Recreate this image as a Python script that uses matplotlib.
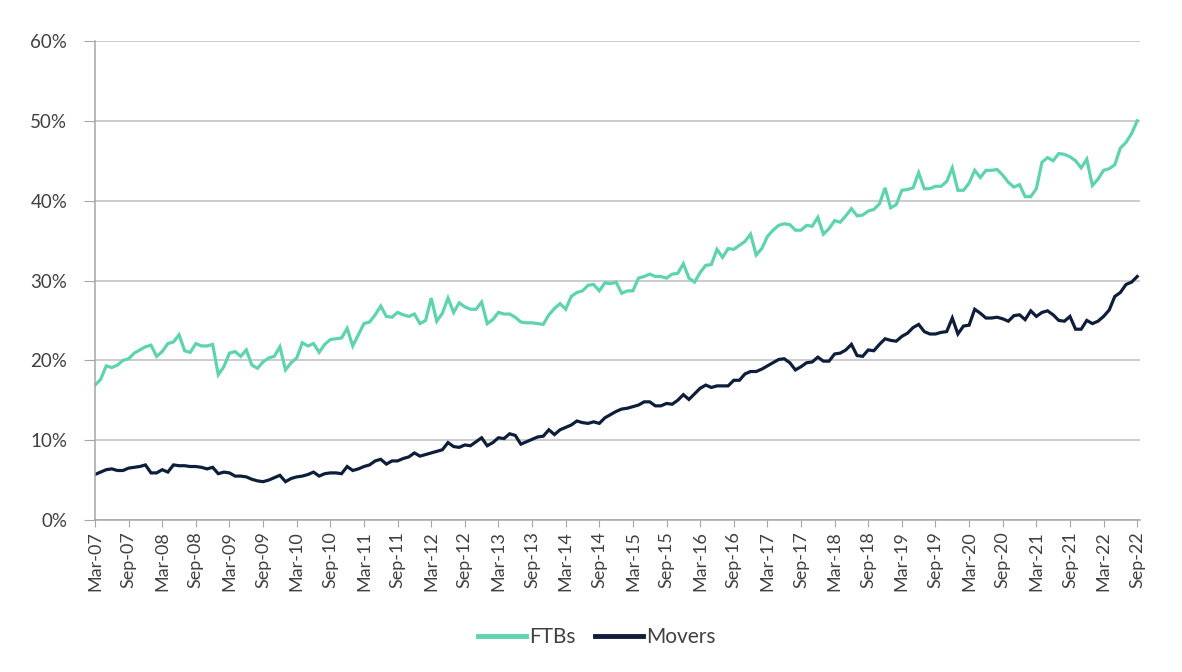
import matplotlib
matplotlib.use("Agg")
import matplotlib.pyplot as plt
import numpy as np

# monthly share, Mar-07 .. Sep-22
ftbs = [
    16.9, 17.6, 19.3, 19.1, 19.4, 20.0, 20.2, 20.9, 21.3, 21.7, 21.9, 20.5,
    21.1, 22.1, 22.3, 23.2, 21.2, 21.0, 22.1, 21.8, 21.8, 22.0, 18.2, 19.2,
    20.9, 21.1, 20.5, 21.3, 19.4, 19.0, 19.8, 20.3, 20.5, 21.7, 18.8, 19.7,
    20.3, 22.2, 21.8, 22.1, 21.0, 22.0, 22.6, 22.7, 22.8, 24.0, 21.8, 23.2,
    24.6, 24.8, 25.7, 26.8, 25.5, 25.4, 26.0, 25.7, 25.5, 25.8, 24.6, 25.0,
    27.8, 24.9, 25.9, 27.8, 26.0, 27.2, 26.7, 26.4, 26.4, 27.3, 24.6, 25.1,
    26.0, 25.8, 25.8, 25.4, 24.8, 24.7, 24.7, 24.6, 24.5, 25.7, 26.5, 27.1,
    26.4, 28.0, 28.5, 28.7, 29.4, 29.5, 28.7, 29.7, 29.6, 29.8, 28.4, 28.7,
    28.7, 30.3, 30.5, 30.8, 30.5, 30.5, 30.3, 30.8, 30.9, 32.1, 30.3, 29.8,
    31.0, 31.9, 32.0, 33.9, 32.9, 34.0, 33.9, 34.4, 34.9, 35.8, 33.2, 34.0,
    35.5, 36.3, 36.9, 37.1, 37.0, 36.3, 36.3, 36.9, 36.8, 37.9, 35.8, 36.5,
    37.5, 37.3, 38.1, 39.0, 38.1, 38.2, 38.7, 38.9, 39.6, 41.6, 39.1, 39.5,
    41.3, 41.4, 41.6, 43.5, 41.5, 41.5, 41.8, 41.8, 42.4, 44.1, 41.3, 41.3,
    42.2, 43.8, 42.9, 43.8, 43.8, 43.9, 43.2, 42.3, 41.7, 42.0, 40.5, 40.5,
    41.5, 44.8, 45.4, 45.0, 45.9, 45.8, 45.5, 45.0, 44.1, 45.2, 41.9, 42.7,
    43.8, 44.0, 44.5, 46.6, 47.3, 48.4, 50.0,
]
movers = [
    5.7, 6.0, 6.3, 6.4, 6.2, 6.2, 6.5, 6.6, 6.7, 6.9, 5.9, 5.9,
    6.3, 6.0, 6.9, 6.8, 6.8, 6.7, 6.7, 6.6, 6.4, 6.6, 5.8, 6.0,
    5.9, 5.5, 5.5, 5.4, 5.1, 4.9, 4.8, 5.0, 5.3, 5.6, 4.8, 5.2,
    5.4, 5.5, 5.7, 6.0, 5.5, 5.8, 5.9, 5.9, 5.8, 6.7, 6.2, 6.4,
    6.7, 6.9, 7.4, 7.6, 7.0, 7.4, 7.4, 7.7, 7.9, 8.4, 8.0, 8.2,
    8.4, 8.6, 8.8, 9.7, 9.2, 9.1, 9.4, 9.3, 9.8, 10.3, 9.3, 9.7,
    10.3, 10.2, 10.8, 10.6, 9.5, 9.8, 10.1, 10.4, 10.5, 11.3, 10.7, 11.3,
    11.6, 11.9, 12.4, 12.2, 12.1, 12.3, 12.1, 12.8, 13.2, 13.6, 13.9, 14.0,
    14.2, 14.4, 14.8, 14.8, 14.3, 14.3, 14.6, 14.5, 15.0, 15.7, 15.1, 15.8,
    16.5, 16.9, 16.6, 16.8, 16.8, 16.8, 17.5, 17.5, 18.3, 18.6, 18.6, 18.9,
    19.3, 19.7, 20.1, 20.2, 19.7, 18.8, 19.2, 19.7, 19.8, 20.4, 19.9, 19.9,
    20.8, 20.9, 21.3, 22.0, 20.6, 20.5, 21.3, 21.2, 22.0, 22.7, 22.5, 22.4,
    23.0, 23.4, 24.1, 24.5, 23.6, 23.3, 23.3, 23.5, 23.6, 25.3, 23.3, 24.3,
    24.4, 26.4, 25.9, 25.3, 25.3, 25.4, 25.2, 24.9, 25.6, 25.7, 25.1, 26.2,
    25.5, 26.0, 26.2, 25.7, 25.0, 24.9, 25.5, 23.9, 23.9, 25.0, 24.6, 24.9,
    25.5, 26.3, 28.0, 28.5, 29.5, 29.8, 30.5,
]

months = ["Jan", "Feb", "Mar", "Apr", "May", "Jun",
          "Jul", "Aug", "Sep", "Oct", "Nov", "Dec"]
labels = []
for k in range(len(ftbs)):
    m = 2 + k
    labels.append("%s-%02d" % (months[m % 12], 7 + m // 12))

x = np.arange(len(ftbs))
tick_pos = x[::6]
tick_lab = [labels[i] for i in tick_pos]

plt.rcParams["font.family"] = ["Lato", "DejaVu Sans"]
fig = plt.figure(figsize=(11.82, 6.72), dpi=100)
ax = fig.add_axes([95 / 1182, 1 - 520 / 672, 1045 / 1182, 479 / 672])

ax.plot(x, ftbs, color="#5ED3B0", lw=2.3, label="FTBs", solid_joinstyle="miter")
ax.plot(x, movers, color="#0E1E3A", lw=2.3, label="Movers", solid_joinstyle="miter")

ax.set_xlim(0, 186.5)
ax.set_ylim(0, 60)
ax.set_yticks(np.arange(0, 61, 10))
ax.set_yticklabels(["%d%%" % v for v in range(0, 61, 10)])
ax.set_xticks(tick_pos)
ax.set_xticklabels(tick_lab, rotation=90)

ax.grid(axis="y", color="#BEBEBE", lw=1.1)
ax.set_axisbelow(True)
for s in ["top", "right"]:
    ax.spines[s].set_visible(False)
for s in ["left", "bottom"]:
    ax.spines[s].set_color("#A6A6A6")
    ax.spines[s].set_linewidth(1.1)
ax.tick_params(axis="y", length=8, color="#A6A6A6", labelsize=13.5,
               labelcolor="#404040", pad=12)
ax.tick_params(axis="x", length=5, color="#A6A6A6", labelsize=13,
               labelcolor="#404040", pad=3)

leg = fig.legend(loc="center", bbox_to_anchor=(0.505, 0.052), ncol=2, frameon=False,
                 fontsize=15, handlelength=2.3, handletextpad=0.15, columnspacing=0.9,
                 labelcolor="#404040")
for h in leg.legend_handles:
    h.set_linewidth(3.5)

fig.savefig("out.png", dpi=100)
